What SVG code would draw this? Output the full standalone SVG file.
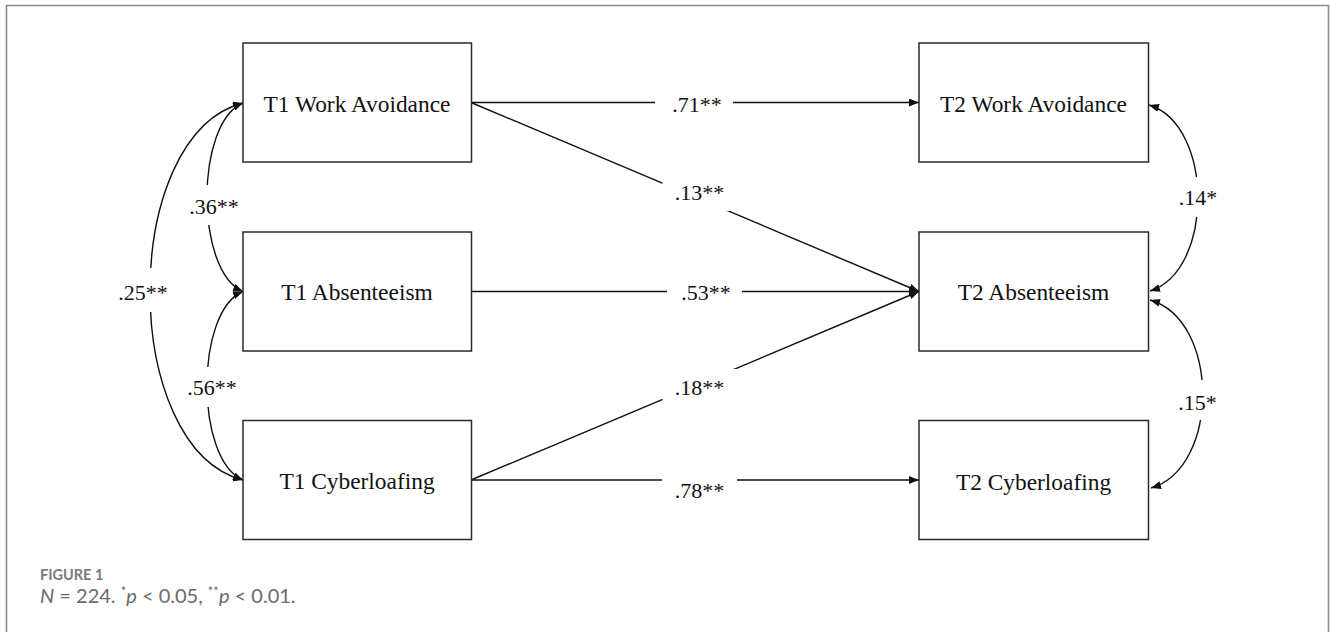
<svg xmlns="http://www.w3.org/2000/svg" width="1330" height="632" viewBox="0 0 1330 632">
<style>
.box{fill:#fff;stroke:#2a2a2a;stroke-width:1.5}
.nt{font-family:"Liberation Serif","Times New Roman",serif;font-size:23.4px;fill:#111;text-anchor:middle}
.ln{fill:none;stroke:#111;stroke-width:1.4}
.lb{fill:#fff;stroke:none}
.lt{font-family:"Liberation Serif","Times New Roman",serif;font-size:22px;fill:#111;text-anchor:middle}
.cap1{font-family:Lato,"Open Sans",sans-serif;font-weight:bold;font-size:14.5px;fill:#7a7a7a}
.cap2{font-family:Lato,"Open Sans",sans-serif;font-size:20px;fill:#6a6a6a}
</style>
<defs>
<marker id="ah" viewBox="0 0 10 8" refX="10" refY="4" markerWidth="10" markerHeight="8" markerUnits="userSpaceOnUse" orient="auto-start-reverse">
<path d="M0,0 L10,4 L0,8 z" fill="#111"/>
</marker>
</defs>
<rect x="0" y="0" width="1330" height="632" fill="#fff"/>
<path d="M6.5,632 V5.5 H1328.5 V632" fill="none" stroke="#8c8c8c" stroke-width="1.6"/>

<g id="connectors">
<line class="ln" x1="471" y1="102.5" x2="919" y2="102.5" marker-end="url(#ah)"/>
<line class="ln" x1="471" y1="102.5" x2="919" y2="291.5" marker-end="url(#ah)"/>
<line class="ln" x1="471" y1="291.5" x2="919" y2="291.5" marker-end="url(#ah)"/>
<line class="ln" x1="471" y1="480" x2="919" y2="291.5" marker-end="url(#ah)"/>
<line class="ln" x1="471" y1="480" x2="919" y2="480" marker-end="url(#ah)"/>
<path class="ln" d="M243,103 C195,123 195,271 243,291.5" marker-start="url(#ah)" marker-end="url(#ah)"/>
<path class="ln" d="M243,291.5 C195,311 195,460 243,480" marker-start="url(#ah)" marker-end="url(#ah)"/>
<path class="ln" d="M243,103 C119,135 119,448 243,480" marker-start="url(#ah)" marker-end="url(#ah)"/>
<path class="ln" d="M1149,105 C1214,125 1214,271 1150,291" marker-start="url(#ah)" marker-end="url(#ah)"/>
<path class="ln" d="M1150,300 C1220,320 1220,468 1151,488" marker-start="url(#ah)" marker-end="url(#ah)"/>
</g>

<g id="labels">
<rect class="lb" x="655" y="83" width="78" height="40"/>
<text class="lt" x="697" y="111.5">.71**</text>
<rect class="lb" x="662.5" y="175" width="74" height="36"/>
<text class="lt" x="699.5" y="200">.13**</text>
<rect class="lb" x="667" y="272" width="75" height="40"/>
<text class="lt" x="706" y="300">.53**</text>
<rect class="lb" x="662.5" y="369" width="74" height="36"/>
<text class="lt" x="699.5" y="395">.18**</text>
<rect class="lb" x="662" y="470" width="75" height="40"/>
<text class="lt" x="699.5" y="498">.78**</text>
<rect class="lb" x="186" y="185" width="55" height="40"/>
<text class="lt" x="214" y="213.5">.36**</text>
<rect class="lb" x="112" y="268" width="62" height="44"/>
<text class="lt" x="143" y="300">.25**</text>
<rect class="lb" x="184" y="367" width="56" height="40"/>
<text class="lt" x="212" y="395">.56**</text>
<rect class="lb" x="1172" y="177" width="52" height="40"/>
<text class="lt" x="1198" y="205">.14*</text>
<rect class="lb" x="1172" y="380" width="52" height="40"/>
<text class="lt" x="1197.5" y="409.5">.15*</text>
</g>

<g id="t1-work-avoidance">
<rect class="box" x="243" y="43" width="228.5" height="119"/>
<text class="nt" x="357" y="111.7">T1 Work Avoidance</text>
</g>
<g id="t1-absenteeism">
<rect class="box" x="243" y="232" width="228.5" height="119"/>
<text class="nt" x="357" y="300">T1 Absenteeism</text>
</g>
<g id="t1-cyberloafing">
<rect class="box" x="243" y="420.5" width="228.5" height="119"/>
<text class="nt" x="357" y="489">T1 Cyberloafing</text>
</g>
<g id="t2-work-avoidance">
<rect class="box" x="919" y="43" width="229.5" height="119"/>
<text class="nt" x="1033.5" y="111.7">T2 Work Avoidance</text>
</g>
<g id="t2-absenteeism">
<rect class="box" x="919" y="232" width="229.5" height="119"/>
<text class="nt" x="1033.5" y="300">T2 Absenteeism</text>
</g>
<g id="t2-cyberloafing">
<rect class="box" x="919" y="420.5" width="229.5" height="119"/>
<text class="nt" x="1033.5" y="490">T2 Cyberloafing</text>
</g>

<g id="caption">
<text class="cap1" x="40" y="580">FIGURE 1</text>
<text class="cap2" x="40" y="603"><tspan font-style="italic">N</tspan> = 224. <tspan font-size="13" dy="-7">*</tspan><tspan font-style="italic" dy="7">p</tspan> &lt; 0.05, <tspan font-size="13" dy="-7">**</tspan><tspan font-style="italic" dy="7">p</tspan> &lt; 0.01.</text>
</g>
</svg>
